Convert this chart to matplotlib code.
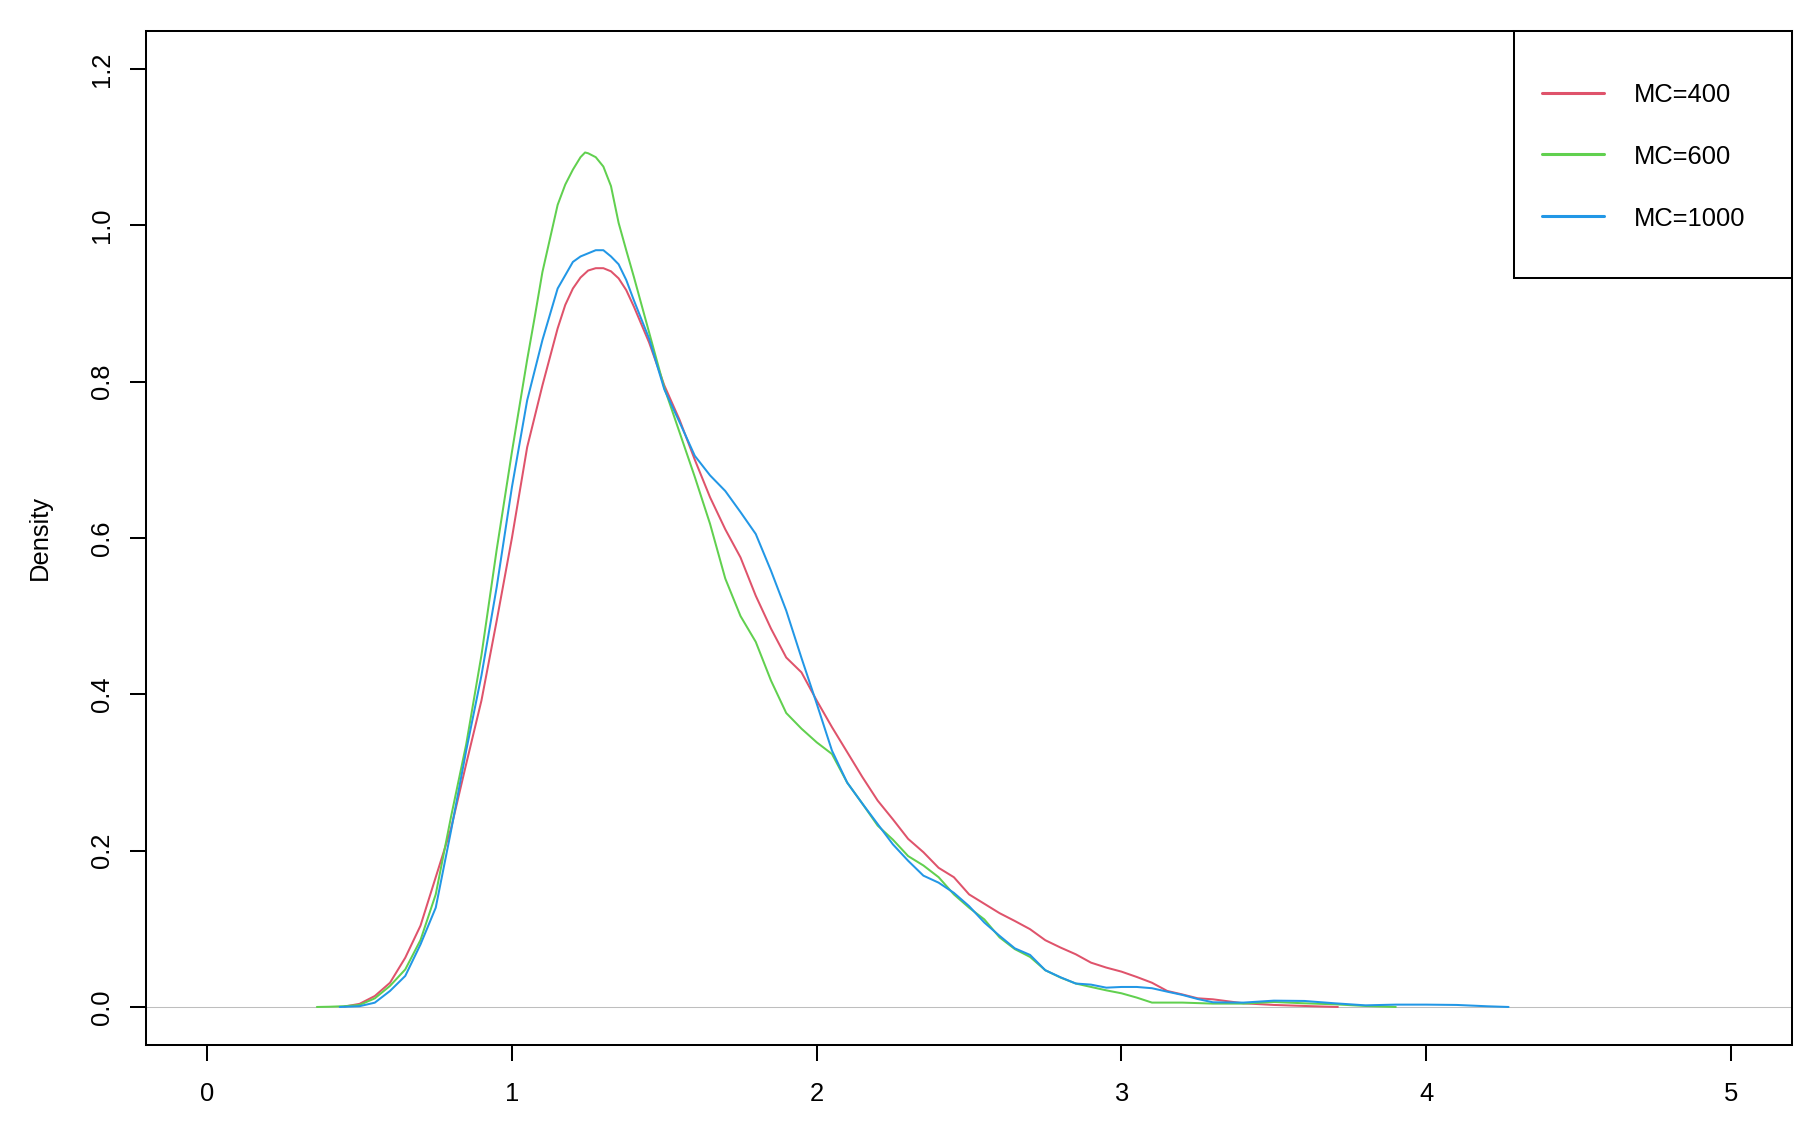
import matplotlib
matplotlib.use("Agg")
import matplotlib.pyplot as plt
from matplotlib.patches import Rectangle

plt.rcParams['font.family'] = ['Liberation Sans', 'DejaVu Sans']

# ---------------- data ----------------
series_labels = ["MC=400", "MC=600", "MC=1000"]
series_colors = ["#DF536B", "#61D04F", "#2297E6"]

x_mc400 = [0.45, 0.5, 0.55, 0.6, 0.65, 0.7, 0.75, 0.8, 0.85, 0.9, 0.95, 1.0, 1.05, 1.1,
           1.15, 1.175, 1.2, 1.225, 1.25, 1.275, 1.3, 1.325, 1.35, 1.375, 1.4, 1.45, 1.5,
           1.55, 1.6, 1.65, 1.7, 1.75, 1.8,
           1.85, 1.9, 1.95, 2.0, 2.05, 2.1, 2.15, 2.2, 2.25, 2.3, 2.35, 2.4, 2.45, 2.5,
           2.55, 2.6, 2.65, 2.7, 2.75, 2.8, 2.85, 2.9, 2.95, 3.0, 3.05, 3.1, 3.15, 3.2,
           3.25, 3.3, 3.4, 3.5, 3.6, 3.71]
y_mc400 = [0.0005, 0.004, 0.014, 0.031, 0.063, 0.104, 0.166, 0.228, 0.311, 0.392, 0.494,
           0.600, 0.716, 0.795, 0.868, 0.898, 0.919, 0.933, 0.942, 0.945, 0.945, 0.941,
           0.932, 0.917, 0.896, 0.850, 0.795,
           0.751, 0.700, 0.652, 0.611, 0.575, 0.526, 0.484, 0.447, 0.428, 0.392, 0.358,
           0.326, 0.294, 0.264, 0.240, 0.215, 0.198, 0.178, 0.166, 0.144, 0.132, 0.120,
           0.110, 0.0995, 0.0854, 0.076, 0.0674, 0.0567, 0.0504, 0.0452, 0.0384, 0.031,
           0.0205, 0.016, 0.0111, 0.0098, 0.0047, 0.0026, 0.0013, 0.0]

x_mc600 = [0.36, 0.4, 0.45, 0.5, 0.55, 0.6, 0.65, 0.7, 0.75, 0.8, 0.85, 0.9, 0.95, 1.0,
           1.05, 1.075, 1.1, 1.125, 1.15, 1.175, 1.2, 1.225, 1.24, 1.25, 1.275, 1.3,
           1.325, 1.35, 1.375, 1.4, 1.45, 1.5, 1.55, 1.6, 1.65, 1.7,
           1.75, 1.8, 1.85, 1.9, 1.95, 2.0, 2.05, 2.1, 2.15, 2.2, 2.25, 2.3, 2.35, 2.4,
           2.45, 2.5, 2.55, 2.6, 2.65, 2.7, 2.75, 2.8, 2.85, 2.9, 2.95, 3.0, 3.05, 3.1,
           3.2, 3.3, 3.4, 3.5, 3.6, 3.7, 3.8, 3.9]
y_mc600 = [0.0, 0.0003, 0.001, 0.0026, 0.011, 0.027, 0.048, 0.0856, 0.144, 0.243, 0.336,
           0.450, 0.585, 0.710, 0.828, 0.883, 0.940, 0.983, 1.026, 1.052, 1.071, 1.087,
           1.093, 1.092, 1.087, 1.075, 1.050, 1.003, 0.968, 0.934,
           0.863, 0.792, 0.735, 0.678, 0.618, 0.548, 0.500, 0.467, 0.4175, 0.376, 0.356,
           0.3385, 0.3236, 0.287, 0.260, 0.232, 0.214, 0.193, 0.181, 0.166, 0.144, 0.127,
           0.112, 0.089, 0.074, 0.064, 0.047, 0.0376, 0.030, 0.0256, 0.0213, 0.0175,
           0.012, 0.0056, 0.0056, 0.0043, 0.0043, 0.0064, 0.0047, 0.0034, 0.0013, 0.0]

x_mc1000 = [0.435, 0.5, 0.55, 0.6, 0.65, 0.7, 0.75, 0.8, 0.85, 0.9, 0.95, 1.0, 1.05, 1.1,
            1.15, 1.175, 1.2, 1.225, 1.25, 1.275, 1.3, 1.325, 1.35, 1.375, 1.4, 1.45,
            1.5, 1.55, 1.6, 1.65, 1.7, 1.75, 1.8,
            1.85, 1.9, 1.95, 2.0, 2.05, 2.1, 2.15, 2.2, 2.25, 2.3, 2.35, 2.4, 2.45, 2.5,
            2.55, 2.6, 2.65, 2.7, 2.75, 2.8, 2.85, 2.9, 2.95, 3.0, 3.05, 3.1, 3.15, 3.2,
            3.25, 3.3, 3.4, 3.5, 3.6, 3.7, 3.8, 3.9, 4.0, 4.1, 4.2, 4.27]
y_mc1000 = [0.0, 0.001, 0.0055, 0.0205, 0.0397, 0.080, 0.127, 0.225, 0.328, 0.424, 0.537,
            0.665, 0.776, 0.853, 0.919, 0.936, 0.953, 0.960, 0.964, 0.968, 0.968, 0.960,
            0.950, 0.930, 0.904, 0.855, 0.790,
            0.748, 0.705, 0.680, 0.660, 0.633, 0.605, 0.558, 0.507, 0.4465, 0.388, 0.328,
            0.287, 0.260, 0.234, 0.208, 0.187, 0.168, 0.159, 0.146, 0.129, 0.108, 0.091,
            0.075, 0.0666, 0.047, 0.038, 0.030, 0.0286, 0.0247, 0.0256, 0.0256, 0.024,
            0.0196, 0.0154, 0.0102, 0.006, 0.0056, 0.0081, 0.0077, 0.0047, 0.0021, 0.003,
            0.003, 0.0026, 0.0009, 0.0]

x_ticks = [0, 1, 2, 3, 4, 5]
x_tick_labels = ["0", "1", "2", "3", "4", "5"]
y_ticks = [0.0, 0.2, 0.4, 0.6, 0.8, 1.0, 1.2]
y_tick_labels = ["0.0", "0.2", "0.4", "0.6", "0.8", "1.0", "1.2"]
y_axis_label = "Density"

# ---------------- figure ----------------
FS = 18.4
LW = 1.45

fig = plt.figure(figsize=(18.19, 11.22), dpi=100)
ax = fig.add_axes([0.08037, 0.06907, 0.90479, 0.90303])
ax.set_xlim(-0.2, 5.2)
ax.set_ylim(-0.048, 1.248)

ax.axhline(0, color="#BEBEBE", lw=0.75, zorder=1)

xs = [x_mc400, x_mc600, x_mc1000]
ys = [y_mc400, y_mc600, y_mc1000]
for i, (xv, yv) in enumerate(zip(xs, ys)):
    ax.plot(xv, yv, color=series_colors[i], lw=LW, solid_joinstyle="round",
            solid_capstyle="round", zorder=2 + i, label=series_labels[i])

for s in ax.spines.values():
    s.set_linewidth(LW)
    s.set_color("black")

ax.set_xticks(x_ticks)
ax.set_xticklabels(x_tick_labels, fontsize=FS)
ax.set_yticks(y_ticks)
ax.set_yticklabels(y_tick_labels, fontsize=FS, rotation=90, va="center")
ax.tick_params(axis="both", direction="out", length=11.5, width=LW, color="black")
ax.tick_params(axis="x", pad=15.6)
ax.tick_params(axis="y", pad=11.7)

ax.set_ylabel(y_axis_label, fontsize=FS)
ax.yaxis.set_label_coords(-0.0571, 0.5)

# ---------------- legend (R-style box) ----------------
leg_x0, leg_y0, leg_w, leg_h = 0.8311, 0.7565, 0.1689, 0.2435
ax.add_patch(Rectangle((leg_x0, leg_y0), leg_w, leg_h, transform=ax.transAxes,
                       facecolor="white", edgecolor="black", lw=LW, zorder=10,
                       clip_on=False))
row_y = [0.9394, 0.8786, 0.8177]
for i in range(3):
    ax.plot([0.8479, 0.8858], [row_y[i], row_y[i]], transform=ax.transAxes,
            color=series_colors[i], lw=2.2, solid_capstyle="round", zorder=11,
            clip_on=False)
    ax.text(0.9040, row_y[i], series_labels[i], transform=ax.transAxes,
            fontsize=FS, ha="left", va="center_baseline", zorder=12)

fig.savefig("out.png", dpi=100, facecolor="white")
